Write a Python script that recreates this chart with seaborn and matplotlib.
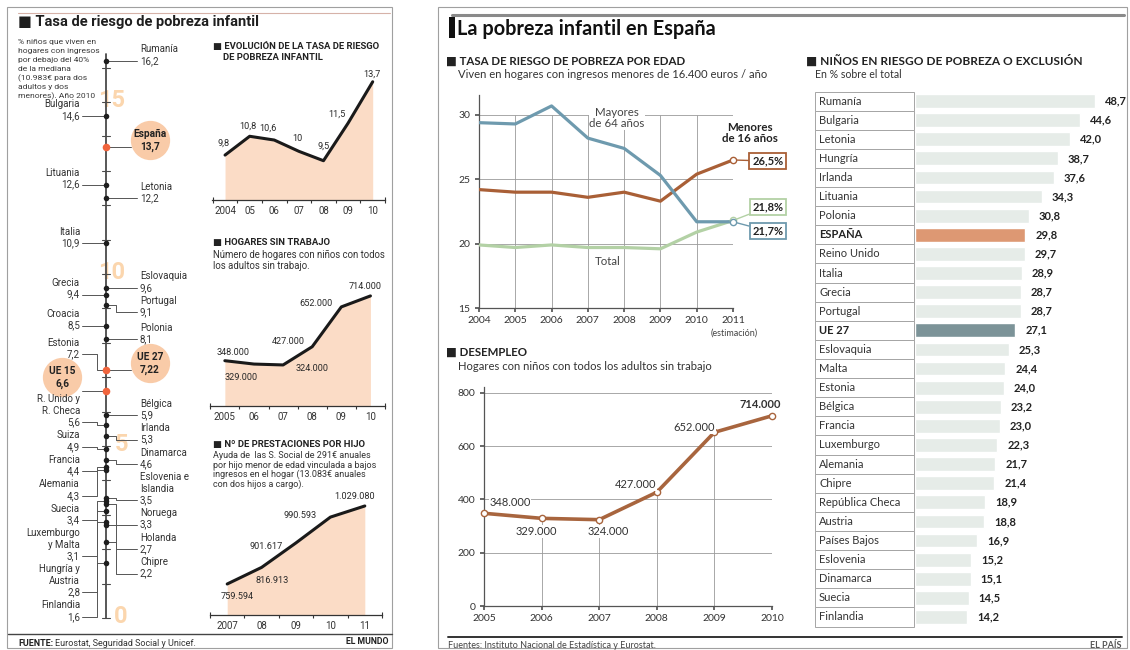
import matplotlib
matplotlib.use("Agg")
import matplotlib.pyplot as plt
import seaborn as sns
import pandas as pd
import numpy as np
from matplotlib.patches import Rectangle

# ------------------------------------------------------------------ DATA
# El Mundo - number line (% children, 2010)
nl_names = ["Rumanía", "Bulgaria", "España", "Lituania", "Letonia", "Italia",
            "Eslovaquia", "Grecia", "Portugal", "Croacia", "Polonia", "Estonia",
            "UE 27", "UE 15", "Bélgica", "R. Unido y\nR. Checa", "Irlanda", "Suiza",
            "Dinamarca", "Francia", "Alemania", "Eslovenia e\nIslandia", "Suecia",
            "Noruega", "Luxemburgo\ny Malta", "Hungría y\nAustria", "Holanda",
            "Chipre", "Finlandia"]
nl_values = [16.2, 14.6, 13.7, 12.6, 12.2, 10.9, 9.6, 9.4, 9.1, 8.5, 8.1, 7.2,
             7.22, 6.6, 5.9, 5.6, 5.3, 4.9, 4.6, 4.4, 4.3, 3.5, 3.4, 3.3, 3.1,
             2.8, 2.7, 2.2, 1.6]
nl_sides = ["R", "L", "R", "L", "R", "L", "R", "L", "R", "L", "R", "L", "R", "L",
            "R", "L", "R", "L", "R", "L", "L", "R", "L", "R", "L", "L", "R", "R", "L"]
nl_highlight = ["España", "UE 27", "UE 15"]
nl_scale_marks = [0, 5, 10, 15]

evo_years = [2004, 2005, 2006, 2007, 2008, 2009, 2010]
evo_rate = [9.8, 10.8, 10.6, 10.0, 9.5, 11.5, 13.7]
evo_labels = ["9,8", "10,8", "10,6", "10", "9,5", "11,5", "13,7"]
evo_ticklabels = ["2004", "05", "06", "07", "08", "09", "10"]

hog_years = [2005, 2006, 2007, 2008, 2009, 2010]
hog_values = [348000, 329000, 324000, 427000, 652000, 714000]
hog_ticklabels = ["2005", "06", "07", "08", "09", "10"]

pres_years = [2007, 2008, 2009, 2010, 2011]
pres_values = [759594, 816913, 901617, 990593, 1029080]
pres_ticklabels = ["2007", "08", "09", "10", "11"]

# El País
age_years = [2004, 2005, 2006, 2007, 2008, 2009, 2010, 2011]
age_mayores = [29.4, 29.3, 30.7, 28.2, 27.4, 25.3, 21.7, 21.7]
age_menores = [24.2, 24.0, 24.0, 23.6, 24.0, 23.3, 25.4, 26.5]
age_total = [19.9, 19.7, 19.9, 19.7, 19.7, 19.6, 20.9, 21.8]

des_years = [2005, 2006, 2007, 2008, 2009, 2010]
des_values = [348, 329, 324, 427, 652, 714]  # miles de hogares

bar_countries = ["Rumanía", "Bulgaria", "Letonia", "Hungría", "Irlanda", "Lituania",
                 "Polonia", "ESPAÑA", "Reino Unido", "Italia", "Grecia", "Portugal",
                 "UE 27", "Eslovaquia", "Malta", "Estonia", "Bélgica", "Francia",
                 "Luxemburgo", "Alemania", "Chipre", "República Checa", "Austria",
                 "Países Bajos", "Eslovenia", "Dinamarca", "Suecia", "Finlandia"]
bar_values = [48.7, 44.6, 42.0, 38.7, 37.6, 34.3, 30.8, 29.8, 29.7, 28.9, 28.7, 28.7,
              27.1, 25.3, 24.4, 24.0, 23.2, 23.0, 22.3, 21.7, 21.4, 18.9, 18.8, 16.9,
              15.2, 15.1, 14.5, 14.2]

# ------------------------------------------------------------------ SETUP
W, H = 1130, 650
sns.set_theme(style="white")
plt.rcParams['font.family'] = ['Lato', 'DejaVu Sans']
MUNDO = ['Roboto', 'DejaVu Sans']
PAIS = ['Lato', 'DejaVu Sans']
PEACH = '#fbdcc6'

fig = plt.figure(figsize=(W / 100, H / 100), dpi=100)
fig.patch.set_facecolor('white')


def add_ax(x0, y0, x1, y1, z=2):
    ax = fig.add_axes([x0 / W, 1 - y1 / H, (x1 - x0) / W, (y1 - y0) / H], zorder=z)
    ax.patch.set_alpha(0)
    return ax


def px2pt(p):
    return p * 0.72


ov = add_ax(0, 0, W, H, z=0)
ov.set_xlim(0, W)
ov.set_ylim(H, 0)
ov.axis('off')

# frames
ov.add_patch(Rectangle((7, 7), 385, 641, fill=False, ec='#a0a0a0', lw=0.8))
ov.add_patch(Rectangle((438, 7), 689, 641, fill=False, ec='#a0a0a0', lw=0.8))
ov.plot([18, 390], [12.5, 12.5], color='#d6b2a8', lw=0.8)
ov.plot([452, 1124], [15, 15], color='#8a8a8a', lw=2.2)

# ================================================================= EL MUNDO
ov.text(18, 22, "■ Tasa de riesgo de pobreza infantil", family=MUNDO,
        fontsize=10.5, fontweight='bold', color='#1e1e1e', va='center')
desc = ["% niños que viven en", "hogares con ingresos", "por debajo del 40%",
        "de la mediana", "(10.983€ para dos", "adultos y dos", "menores). Año 2010"]
for i, line in enumerate(desc):
    ov.text(18, 42 + i * 9.1, line, family=MUNDO, fontsize=6.1, color='#3a3a3a',
            va='center')

# ---- number line
nl = add_ax(8, 40, 212, 630, z=1)
nl.set_xlim(8, 212)
nl.set_ylim(-0.349, 16.802)
nl.axis('off')
ppu = 590 / (16.802 + 0.349)
AX = 106

for k in nl_scale_marks:
    nl.text(112 if k >= 10 else 121, k + 0.05, str(k), family=MUNDO, fontsize=17,
            fontweight='bold', color='#fbd6ae', ha='center', va='center', zorder=1)
nl.plot([AX, AX], [0, 16.4], color='#4a4a4a', lw=1.3, zorder=3)
for k in range(17):
    nl.plot([AX - 4, AX + 4], [k, k], color='#4a4a4a', lw=0.8, zorder=3)

df_nl = pd.DataFrame({'x': AX, 'v': nl_values, 'name': nl_names, 'side': nl_sides})
df_nl['hl'] = df_nl['name'].isin(nl_highlight)
sns.scatterplot(data=df_nl[~df_nl['hl']], x='x', y='v', color='#1e1e1e', s=16,
                linewidth=0, ax=nl, zorder=5, legend=False)
sns.scatterplot(data=df_nl[df_nl['hl']], x='x', y='v', color='#f0643c', s=30,
                linewidth=0, ax=nl, zorder=5, legend=False)
nl.set_xlim(8, 212)
nl.set_ylim(-0.349, 16.802)
nl.set_xlabel('')
nl.set_ylabel('')

LH = 11.5 / ppu
LHh = 12.5 / ppu
GAP = 3 / ppu


def place(items):
    for it in items:
        if it['hl']:
            it['up'], it['down'] = LHh / 2 + 15 / ppu, 8 / ppu
        else:
            it['up'], it['down'] = (it['n'] - 1) * LH + 5 / ppu, 5 / ppu
    prev = None
    for it in items:
        a = it['v']
        if prev is not None:
            a = min(a, prev['a'] - prev['down'] - GAP - it['up'])
        it['a'] = a
        prev = it
    nxt = None
    amin = 1 / ppu
    for it in reversed(items):
        lo = amin if nxt is None else nxt['a'] + nxt['up'] + GAP + it['down']
        it['a'] = max(it['a'], lo)
        nxt = it


for side in ['L', 'R']:
    sub = df_nl[df_nl['side'] == side].sort_values('v', ascending=False)
    items = []
    for _, r in sub.iterrows():
        items.append({'name': r['name'], 'v': r['v'], 'hl': r['hl'],
                      'n': len(r['name'].split('\n')) + 1})
    place(items)
    for it in items:
        val = str(it['v']).replace('.', ',')
        lines = it['name'].split('\n') + [val]
        n = len(lines)
        a, v = it['a'], it['v']
        if it['hl']:
            cx = 62 if side == 'L' else 150
            nl.scatter([cx], [a + LHh / 2], s=800, color='#f9cba8', linewidths=0, zorder=1)
            for k, line in enumerate(lines):
                nl.text(cx, a + (n - 1 - k) * LHh, line, family=MUNDO, fontsize=7.3,
                        fontweight='bold', color='#222', ha='center', va='center', zorder=4)
            if side == 'L':
                nl.plot([82, AX], [v, v], color='#555', lw=0.7, zorder=2)
            else:
                nl.plot([AX, 131], [v, v], color='#555', lw=0.7, zorder=2)
            continue
        for k, line in enumerate(lines):
            if side == 'L':
                nl.text(80, a + (n - 1 - k) * LH, line, family=MUNDO, fontsize=7,
                        color='#333', ha='right', va='center', zorder=4)
            else:
                nl.text(140, a + (n - 1 - k) * LH, line, family=MUNDO, fontsize=7,
                        color='#333', ha='left', va='center', zorder=4)
        straight = abs(a - v) < 1.5 / ppu
        if side == 'L':
            if straight:
                nl.plot([82, AX], [v, v], color='#555', lw=0.7, zorder=2)
            else:
                nl.plot([82, 97, 97, AX], [a, a, v, v], color='#555', lw=0.7, zorder=2)
        else:
            if straight:
                nl.plot([AX, 137], [v, v], color='#555', lw=0.7, zorder=2)
            else:
                nl.plot([AX, 116, 116, 137], [v, v, a, a], color='#555', lw=0.7, zorder=2)


# ---- small area charts
def area_chart(box, years, vals, xlim, ylim, ticklabels, labels, offsets):
    ax = add_ax(*box)
    ax.fill_between(years, vals, ylim[0], color=PEACH, lw=0, zorder=1)
    sns.lineplot(x=years, y=vals, ax=ax, color='#1a1a1a', lw=2.2, zorder=3)
    ax.set_xlim(xlim)
    ax.set_ylim(ylim)
    for s in ['top', 'right', 'left']:
        ax.spines[s].set_visible(False)
    ax.spines['bottom'].set_color('#333')
    ax.spines['bottom'].set_linewidth(0.9)
    ax.set_xticks(years)
    ax.set_xticklabels(ticklabels, fontsize=7, family=MUNDO, color='#333')
    ax.set_xticks([y - 0.5 for y in years] + [years[-1] + 0.5], minor=True)
    ax.tick_params(axis='x', which='major', length=0, pad=4)
    ax.tick_params(axis='x', which='minor', length=5, width=0.8, direction='inout',
                   color='#333', bottom=True)
    ax.set_yticks([])
    ax.set_xlabel('')
    ax.set_ylabel('')
    for x, y, lbl, (dx, dy) in zip(years, vals, labels, offsets):
        ax.annotate(lbl, (x, y), xytext=(px2pt(dx), -px2pt(dy)), textcoords='offset points',
                    ha='center', va='center', fontsize=6.6, family=MUNDO, color='#2a2a2a',
                    annotation_clip=False)
    return ax


HEAD = dict(family=MUNDO, fontsize=6.8, fontweight='bold', color='#222', va='center')
ov.text(213, 46, "■ EVOLUCIÓN DE LA TASA DE RIESGO", **HEAD)
ov.text(223, 58, "DE POBREZA INFANTIL", **HEAD)
area_chart((212, 72, 385, 200), evo_years, evo_rate, (2003.47, 2010.49), (7.41, 14.22),
           evo_ticklabels, evo_labels,
           [(-1, -12), (-2, -10), (-6, -12), (-1, -13), (0, -15), (-11, -9), (-1, -8)])

ov.text(213, 242, "■ HOGARES SIN TRABAJO", **HEAD)
ov.text(213, 255, "Número de hogares con niños con todos", family=MUNDO, fontsize=6.9,
        color='#333', va='center')
ov.text(213, 266, "los adultos sin trabajo.", family=MUNDO, fontsize=6.9,
        color='#333', va='center')
area_chart((210, 280, 385, 406), hog_years, hog_values, (2004.49, 2010.44), (92000, 804000),
           hog_ticklabels, [f"{v:,}".replace(',', '.') for v in hog_values],
           [(8, -8), (-13, 13), (29, 4), (-24, -5), (-25, -3), (-5, -9)])

ov.text(213, 445, "■ Nº DE PRESTACIONES POR HIJO", **HEAD)
for i, line in enumerate(["Ayuda de  las S. Social de 291€ anuales",
                          "por hijo menor de edad vinculada a bajos",
                          "ingresos en el hogar (13.083€ anuales",
                          "con dos hijos a cargo)."]):
    ov.text(213, 456 + i * 9.3, line, family=MUNDO, fontsize=6.5, color='#333', va='center')
area_chart((210, 500, 382, 615), pres_years, pres_values, (2006.51, 2011.49),
           (652500, 1049700), pres_ticklabels,
           [f"{v:,}".replace(',', '.') for v in pres_values],
           [(10, 13), (11, 13), (-30, 4), (-30, -2), (-10, -9)])

ov.plot([8, 392], [634, 634], color='#444', lw=1.0)
ov.text(18, 643, "FUENTE:", family=MUNDO, fontsize=6.5, fontweight='bold', color='#222',
        va='center')
ov.text(55, 643, "Eurostat, Seguridad Social y Unicef.", family=MUNDO, fontsize=6.5,
        color='#333', va='center')
ov.text(389, 642, "EL MUNDO", family=MUNDO, fontsize=6.3, fontweight='bold', color='#222',
        va='center', ha='right')

# ================================================================= EL PAÍS
ov.add_patch(Rectangle((449, 17), 6, 21, fc='#111', ec='none'))
ov.text(457, 29, "La pobreza infantil en España", family=PAIS, fontsize=14.3,
        fontweight='bold', color='#111', va='center')

ov.text(446, 61, "■ TASA DE RIESGO DE POBREZA POR EDAD", family=PAIS, fontsize=8.3,
        fontweight='bold', color='#222', va='center')
ov.text(458, 75, "Viven en hogares con ingresos menores de 16.400 euros / año", family=PAIS,
        fontsize=8.15, color='#333', va='center')

C_MAY, C_MEN, C_TOT = '#6e9aae', '#a95f36', '#b3d1a5'
ag = add_ax(479, 95, 733, 308)
ag.hlines([20, 25, 30], 2004, 2011, color='#9a9a9a', lw=0.6, zorder=0)
ag.vlines(age_years[1:], 15, 30, color='#9a9a9a', lw=0.6, zorder=0)
df_age = pd.DataFrame({
    'year': age_years * 3,
    'rate': age_total + age_menores + age_mayores,
    'grupo': ['Total'] * 8 + ['Menores'] * 8 + ['Mayores'] * 8})
sns.lineplot(data=df_age, x='year', y='rate', hue='grupo',
             palette={'Total': C_TOT, 'Menores': C_MEN, 'Mayores': C_MAY},
             lw=2.3, legend=False, ax=ag, zorder=3)
for vals, c in [(age_total, C_TOT), (age_menores, C_MEN), (age_mayores, C_MAY)]:
    ag.plot([age_years[-1]], [vals[-1]], 'o', ms=4.5, mfc='white', mec=c, mew=1,
            clip_on=False, zorder=5)
ag.set_xlim(2004, 2011)
ag.set_ylim(15, 31.55)
ag.set_yticks([15, 20, 25, 30])
ag.set_xticks(age_years)
for s in ['top', 'right']:
    ag.spines[s].set_visible(False)
for s in ['left', 'bottom']:
    ag.spines[s].set_color('#555')
    ag.spines[s].set_linewidth(0.9)
ag.tick_params(length=3, color='#555', labelsize=7.5, labelcolor='#333', pad=3,
               left=True, bottom=True)
for t in ag.get_xticklabels() + ag.get_yticklabels():
    t.set_family(PAIS)
ag.set_xlabel('')
ag.set_ylabel('')
ov.text(734, 333, "(estimación)", family=PAIS, fontsize=6.5, color='#444', ha='center',
        va='center')
ag.text(2007.8, 29.76, "Mayores\nde 64 años", family=PAIS, fontsize=8.3, color='#444',
        ha='center', va='center', linespacing=1.05, zorder=4,
        bbox=dict(fc='white', ec='none', pad=0.5))
ag.text(2011.47, 28.6, "Menores\nde 16 años", family=PAIS, fontsize=8.3, fontweight='bold',
        color='#222', ha='center', va='center', linespacing=1.05, clip_on=False)
ag.text(2007.55, 18.65, "Total", family=PAIS, fontsize=8.3, color='#444', ha='center',
        va='center')
for val, ty, c in [(age_menores[-1], 26.42, C_MEN), (age_total[-1], 22.85, C_TOT),
                   (age_mayores[-1], 20.98, C_MAY)]:
    ag.annotate(f"{val:.1f}%".replace('.', ','), xy=(2011, val), xytext=(2011.96, ty),
                textcoords='data', ha='center', va='center', family=PAIS, fontsize=8,
                fontweight='bold', color='#222', annotation_clip=False,
                bbox=dict(boxstyle='square,pad=0.25', fc='white', ec=c, lw=1.3),
                arrowprops=dict(arrowstyle='-', color=c, lw=1, shrinkA=0, shrinkB=3))

# ---- Desempleo
ov.text(446, 352, "■ DESEMPLEO", family=PAIS, fontsize=8.3, fontweight='bold',
        color='#222', va='center')
ov.text(458, 366, "Hogares con niños con todos los adultos sin trabajo", family=PAIS,
        fontsize=8.15, color='#333', va='center')
C_DES = '#a8653e'
de = add_ax(484, 387, 772, 606)
de.hlines([200, 400, 600, 800], 2005, 2010, color='#9a9a9a', lw=0.6, zorder=0)
de.vlines(des_years[1:], 0, des_values[1:], color='#9a9a9a', lw=0.6, zorder=0)
sns.lineplot(x=des_years, y=des_values, color=C_DES, lw=2.6, marker='o', markersize=4.5,
             markerfacecolor='white', markeredgecolor=C_DES, markeredgewidth=1, ax=de,
             clip_on=False, zorder=4)
de.set_xlim(2005, 2010)
de.set_ylim(0, 822)
de.set_yticks([0, 200, 400, 600, 800])
de.set_xticks(des_years)
for s in ['top', 'right']:
    de.spines[s].set_visible(False)
for s in ['left', 'bottom']:
    de.spines[s].set_color('#555')
    de.spines[s].set_linewidth(0.9)
de.tick_params(length=3, color='#555', labelsize=7.5, labelcolor='#333', pad=3,
               left=True, bottom=True)
for t in de.get_xticklabels() + de.get_yticklabels():
    t.set_family(PAIS)
de.set_xlabel('')
de.set_ylabel('')
des_offsets = [(26, -11), (-5, 13), (9, 12), (-21, -8), (-20, -5), (-12, -11)]
for i, (x, y, (dx, dy)) in enumerate(zip(des_years, des_values, des_offsets)):
    de.annotate(f"{y * 1000:,}".replace(',', '.'), (x, y),
                xytext=(px2pt(dx), -px2pt(dy)), textcoords='offset points',
                ha='center', va='center', family=PAIS, fontsize=8,
                fontweight='bold' if i == len(des_years) - 1 else 'normal',
                color='#333', annotation_clip=False,
                bbox=dict(fc='white', ec='none', pad=0.6), zorder=5)

ov.plot([448, 1122], [637, 637], color='#333', lw=1.4)
ov.text(448, 645, "Fuentes: Instituto Nacional de Estadística y Eurostat.", family=PAIS,
        fontsize=6.5, color='#444', va='center')
ov.text(1121, 645, "EL PAÍS", family=PAIS, fontsize=6.5, fontweight='bold', color='#555',
        va='center', ha='right')

# ---- Bar chart
ov.text(806, 61, "■ NIÑOS EN RIESGO DE POBREZA O EXCLUSIÓN", family=PAIS, fontsize=8.6,
        fontweight='bold', color='#222', va='center')
ov.text(815, 75, "En % sobre el total", family=PAIS, fontsize=7.6, color='#333',
        va='center')
PXU = 3.696
ba = add_ax(915, 91.5, 1130, 626.5)
df_bar = pd.DataFrame({'pais': bar_countries, 'valor': bar_values})
pal = {c: ('#dd9873' if c == 'ESPAÑA' else '#7c9398' if c == 'UE 27' else '#e6ece8')
       for c in bar_countries}
sns.barplot(data=df_bar, x='valor', y='pais', hue='pais', palette=pal, legend=False,
            width=0.72, orient='h', saturation=1, ax=ba)
ba.set_xlim(0, 215 / PXU)
ba.set_ylim(len(bar_countries) - 0.5, -0.5)
ba.axis('off')
for i, (c, v) in enumerate(zip(bar_countries, bar_values)):
    ba.add_patch(Rectangle((-100 / PXU, i - 0.5), 99 / PXU, 1, fc='white', ec='#a5a5a5',
                           lw=0.7, clip_on=False))
    bold = c in ('ESPAÑA', 'UE 27')
    ba.text(-96 / PXU, i, c, family=PAIS, fontsize=8, color='#222' if bold else '#333',
            fontweight='bold' if bold else 'normal', ha='left', va='center', clip_on=False)
    ba.text(v + 10 / PXU, i, f"{v:.1f}".replace('.', ','), family=PAIS, fontsize=8,
            fontweight='bold', color='#222', ha='left', va='center', clip_on=False)

fig.savefig("out.png", dpi=100, facecolor='white')
